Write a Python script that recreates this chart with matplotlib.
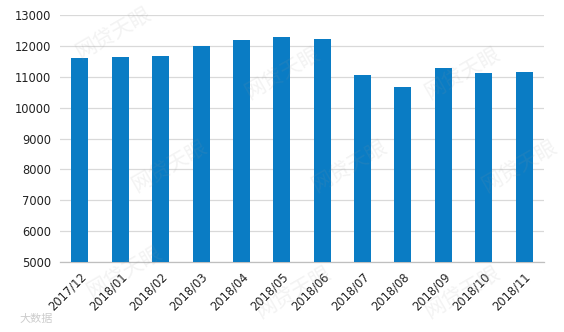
import matplotlib
matplotlib.use("Agg")
import matplotlib.pyplot as plt

# data
months = ["2017/12", "2018/01", "2018/02", "2018/03", "2018/04", "2018/05",
          "2018/06", "2018/07", "2018/08", "2018/09", "2018/10", "2018/11"]
values = [11600, 11650, 11680, 12000, 12200, 12290,
          12220, 11060, 10670, 11290, 11130, 11170]
y_ticks = [5000, 6000, 7000, 8000, 9000, 10000, 11000, 12000, 13000]

BAR_COLOR = "#0a7cc4"
GRID_COLOR = "#d9d9d9"

fig = plt.figure(figsize=(5.64, 3.32), dpi=100, facecolor="white")
ax = fig.add_axes([0.106, 0.211, 0.859, 0.743])

x = range(len(months))
ax.bar(x, values, width=0.42, color=BAR_COLOR, zorder=3)

ax.set_ylim(5000, 13000)
ax.set_xlim(-0.5, len(months) - 0.5)
ax.set_yticks(y_ticks)
ax.set_yticklabels([str(v) for v in y_ticks], fontsize=8.3, color="#222222")
ax.set_xticks(list(x))
ax.set_xticklabels(months, rotation=45, ha="right", rotation_mode="anchor",
                   fontsize=8.3, color="#222222")

ax.grid(axis="y", color=GRID_COLOR, linewidth=0.9, zorder=0)
ax.tick_params(axis="both", length=0, pad=6)
for side in ("left", "right", "top"):
    ax.spines[side].set_visible(False)
ax.spines["bottom"].set_color("#bfbfbf")
ax.spines["bottom"].set_linewidth(0.9)

# faint watermark, tiled like the source image
for wx, wy in [(0.20, 0.90), (0.50, 0.78), (0.82, 0.78),
               (0.30, 0.50), (0.62, 0.50), (0.92, 0.50),
               (0.22, 0.18), (0.52, 0.12), (0.82, 0.12)]:
    fig.text(wx, wy, "网贷天眼", fontsize=15, color="#999999", alpha=0.12,
             rotation=30, ha="center", va="center",
             family=["Noto Sans CJK SC", "DejaVu Sans"], zorder=10)

fig.text(0.035, 0.03, "大数据", fontsize=8, color="#aaaaaa", alpha=0.6,
         family=["Noto Sans CJK SC", "DejaVu Sans"])

fig.savefig("out.png", dpi=100, facecolor="white")
